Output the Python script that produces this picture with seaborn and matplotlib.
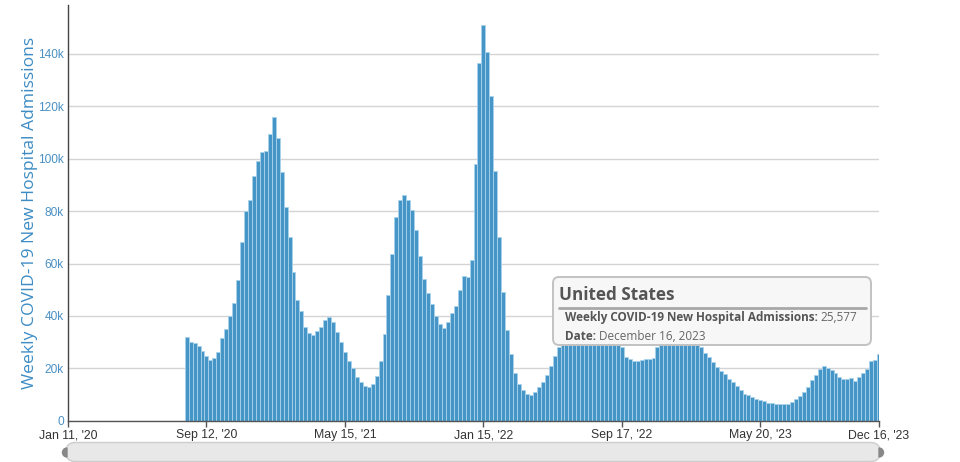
import numpy as np
import pandas as pd
import matplotlib
matplotlib.use("Agg")
import matplotlib.pyplot as plt
import seaborn as sns
from matplotlib.patches import FancyBboxPatch, Wedge
from matplotlib.lines import Line2D
from matplotlib.transforms import IdentityTransform

# ---------------- data ----------------
first_week = "2020-08-08"
axis_start = "2020-01-11"
axis_end = "2023-12-16"

# weekly new hospital admissions, thousands (one value per week from first_week)
wave_2020_21 = [31.8, 30.0, 29.5, 28.4, 26.5, 24.6, 23.2, 23.8, 26.1, 31.4,
                35.0, 39.8, 44.8, 53.7, 68.2, 80.2, 84.4, 93.3, 99.0, 102.4,
                102.8, 109.5, 115.9, 107.9, 95.0, 81.4, 70.0, 56.7, 46.1, 41.7,
                35.6, 33.5, 32.6, 34.1, 35.8, 38.4, 39.4, 37.5, 33.8, 30.0,
                26.1, 22.9, 20.1, 16.7, 14.6]
wave_2021_22 = [13.4, 12.8, 14.2, 16.9, 22.9, 33.1, 47.8, 63.6, 77.9, 84.4,
                86.0, 84.4, 80.4, 72.9, 62.7, 54.1, 48.7, 44.4, 39.8, 36.8,
                35.4, 37.5, 41.0, 43.6, 50.0, 55.1, 54.7, 61.2, 98.0, 136.5,
                151.1, 140.8, 123.9, 95.3, 70.0, 49.1, 34.7, 25.4, 18.4, 14.1,
                11.8, 10.2, 9.9, 10.8]
wave_2022_23 = [12.7, 14.8, 17.4, 20.7, 24.7, 28.0, 30.0, 31.0, 32.0, 33.0,
                34.0, 36.0, 38.0, 40.0, 42.0, 43.0, 43.0, 41.0, 38.0, 35.0,
                32.0, 28.0, 24.4, 23.4, 22.8, 22.8, 23.2, 23.4, 23.5, 24.0,
                28.0, 30.0, 34.0, 38.0, 40.0, 42.0, 44.0, 44.0, 39.0, 34.0,
                31.0]
wave_2023 = [28.0, 26.0, 24.2, 22.5, 20.4, 19.1, 17.7, 16.0, 14.6, 13.2,
             11.7, 10.2, 9.8, 9.2, 8.3, 7.9, 7.4, 6.9, 6.6, 6.5,
             6.4, 6.4, 6.5, 7.1, 8.1, 9.3, 10.9, 13.0, 15.5, 17.4,
             19.6, 20.7, 20.1, 19.3, 18.1, 16.8, 16.0, 15.9, 16.2, 15.0,
             16.7, 18.1, 19.7, 22.8, 23.2, 25.577]
admissions_k = wave_2020_21 + wave_2021_22 + wave_2022_23 + wave_2023

tick_dates = ["2020-01-11", "2020-09-12", "2021-05-15", "2022-01-15",
              "2022-09-17", "2023-05-20", "2023-12-16"]
tick_labels = ["Jan 11, '20", "Sep 12, '20", "May 15, '21", "Jan 15, '22",
               "Sep 17, '22", "May 20, '23", "Dec 16, '23"]
y_ticks = [0, 20000, 40000, 60000, 80000, 100000, 120000, 140000]
y_tick_labels = ["0", "20k", "40k", "60k", "80k", "100k", "120k", "140k"]
y_label = "Weekly COVID-19 New Hospital Admissions"

tooltip_title = "United States"
tooltip_metric = "Weekly COVID-19 New Hospital Admissions:"
tooltip_value = "25,577"
tooltip_date_label = "Date:"
tooltip_date = "December 16, 2023"

# ---------------- build ----------------
sns.set_theme(style="white")
plt.rcParams["font.family"] = ["Liberation Sans", "DejaVu Sans"]

t0 = pd.Timestamp(axis_start)
dates = pd.date_range(first_week, periods=len(admissions_k), freq="7D")
weeks = np.asarray((dates - t0).days, dtype=float) / 7.0
df = pd.DataFrame({"week": weeks, "admissions": np.array(admissions_k) * 1000})

W, H = 960, 462
fig = plt.figure(figsize=(W / 100, H / 100), dpi=100)
ax_left, ax_right, ax_top, ax_bottom = 68, 879, 5, 420.7
ax = fig.add_axes([ax_left / W, 1 - ax_bottom / H,
                   (ax_right - ax_left) / W, (ax_bottom - ax_top) / H])

sns.barplot(data=df, x="week", y="admissions", native_scale=True, width=1.0,
            color="#4596c6", saturation=1, edgecolor="#a9d2ec", linewidth=0.6,
            errorbar=None, ax=ax, zorder=2)

x_end = (pd.Timestamp(axis_end) - t0).days / 7.0
ax.set_xlim(0, x_end)
ax.set_ylim(0, 158700)

tick_pos = [(pd.Timestamp(d) - t0).days / 7.0 for d in tick_dates]
ax.set_xticks(tick_pos)
ax.set_xticklabels(tick_labels, fontsize=8.8, color="#333333")
ax.set_yticks(y_ticks)
ax.set_yticklabels(y_tick_labels, fontsize=8.6, color="#4a90c4")
ax.tick_params(axis="x", length=4, width=1, color="#555555", pad=2, bottom=True)
ax.tick_params(axis="y", length=0, pad=3)
ax.set_xlabel("")
ax.set_ylabel(y_label, fontsize=12.6, color="#3d8cc4", family=["Open Sans", "DejaVu Sans"])
ax.yaxis.set_label_coords((38 - ax_left) / (ax_right - ax_left), 0.5)

ax.grid(axis="y", color="#d4d4d4", linewidth=1)
ax.grid(axis="x", visible=False)
ax.set_axisbelow(True)
for s in ["top", "right"]:
    ax.spines[s].set_visible(False)
ax.spines["left"].set_color("#444444")
ax.spines["left"].set_linewidth(1)
ax.spines["bottom"].set_color("#555555")
ax.spines["bottom"].set_linewidth(1)
ax.set_facecolor("white")

# ---------------- tooltip ----------------
I = IdentityTransform()
def py(y):
    return H - y

box = FancyBboxPatch((553, py(345)), 318, 68,
                     boxstyle="round,pad=0,rounding_size=6",
                     fc="#f7f7f7", ec="#c2c2c2", lw=1.4, transform=I, zorder=10)
fig.add_artist(box)
of = ["Open Sans", "DejaVu Sans"]
fig.add_artist(plt.Text(559, py(300), tooltip_title, transform=I, fontsize=12.3,
                        fontweight="bold", color="#555555", family=of, zorder=11))
fig.add_artist(Line2D([559, 866], [py(308), py(308)], transform=I,
                      color="#a8a8a8", lw=2, zorder=11))
fs = 8.5
t1 = plt.Text(565, py(321), tooltip_metric, transform=I, fontsize=fs,
              fontweight="bold", color="#555555", family=of, zorder=11)
t2 = plt.Text(565, py(340), tooltip_date_label, transform=I, fontsize=fs,
              fontweight="bold", color="#555555", family=of, zorder=11)
fig.add_artist(t1)
fig.add_artist(t2)
fig.canvas.draw()
r = fig.canvas.get_renderer()
b1 = t1.get_window_extent(r)
b2 = t2.get_window_extent(r)
fig.add_artist(plt.Text(b1.x1 + 3, py(321), tooltip_value, transform=I, fontsize=fs,
                        color="#666666", family=of, zorder=11))
fig.add_artist(plt.Text(b2.x1 + 3, py(340), tooltip_date, transform=I, fontsize=fs,
                        color="#666666", family=of, zorder=11))

# ---------------- scrollbar ----------------
fig.add_artist(FancyBboxPatch((66, py(461.5)), 814, 19,
                              boxstyle="round,pad=0,rounding_size=9",
                              fc="#e8e8e8", ec="#cdcdcd", lw=1, transform=I, zorder=3))
fig.add_artist(Wedge((67, py(452.5)), 4.5, 90, 270, transform=I, color="#888888", zorder=4))
fig.add_artist(Wedge((879, py(452.5)), 4.5, -90, 90, transform=I, color="#888888", zorder=4))

fig.savefig("out.png", dpi=100)
